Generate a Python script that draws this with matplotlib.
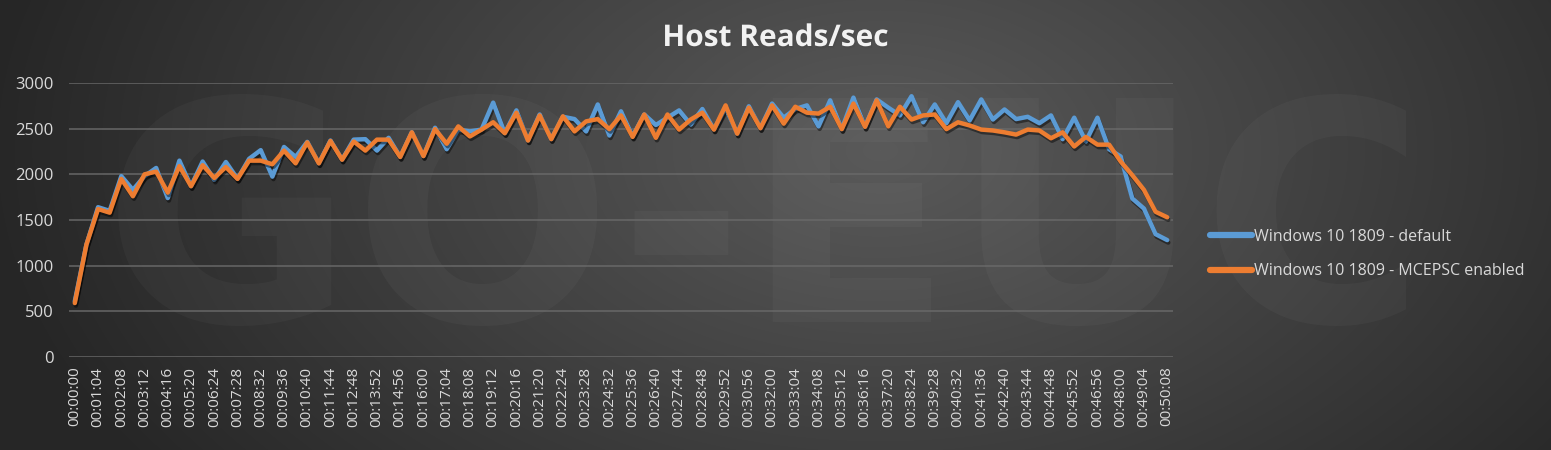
#!/usr/bin/env python3

import numpy as np

import matplotlib
matplotlib.use('Agg')
import matplotlib.pyplot as plt
from matplotlib import patheffects

plt.rcParams['font.family'] = ['Open Sans', 'DejaVu Sans']

# one sample every 32 seconds
step_sec = 32

default_reads = [
    610, 1230, 1640, 1600, 1980, 1830, 1980, 2070, 1740, 2150,
    1870, 2140, 1940, 2135, 1950, 2170, 2265, 1975, 2300, 2190,
    2355, 2120, 2370, 2160, 2380, 2385, 2260, 2400, 2190, 2460,
    2200, 2510, 2275, 2490, 2470, 2490, 2785, 2450, 2700, 2370,
    2655, 2385, 2630, 2605, 2470, 2765, 2425, 2690, 2415, 2655,
    2540, 2620, 2700, 2545, 2715, 2490, 2730, 2445, 2745, 2505,
    2775, 2620, 2715, 2755, 2525, 2810, 2495, 2840, 2520, 2820,
    2730, 2645, 2855, 2570, 2765, 2560, 2790, 2590, 2820, 2600,
    2710, 2605, 2630, 2560, 2645, 2385, 2620, 2360, 2620, 2275,
    2195, 1735, 1625, 1345, 1280,
]

mcepsc_reads = [
    590, 1230, 1620, 1580, 1950, 1760, 2000, 2030, 1800, 2090,
    1870, 2100, 1960, 2080, 1950, 2150, 2150, 2110, 2260, 2120,
    2350, 2120, 2365, 2160, 2360, 2260, 2380, 2380, 2190, 2460,
    2200, 2495, 2335, 2525, 2415, 2490, 2570, 2450, 2675, 2370,
    2645, 2385, 2635, 2470, 2580, 2605, 2495, 2645, 2410, 2655,
    2400, 2655, 2490, 2600, 2675, 2490, 2755, 2445, 2730, 2505,
    2755, 2555, 2740, 2675, 2665, 2740, 2495, 2775, 2520, 2810,
    2525, 2740, 2600, 2645, 2655, 2495, 2570, 2535, 2490, 2480,
    2460, 2435, 2490, 2480, 2395, 2460, 2305, 2410, 2325, 2325,
    2140, 1990, 1830, 1590, 1530,
]

series_names = ['Windows 10 1809 - default', 'Windows 10 1809 - MCEPSC enabled']
series_colors = ['#5b9bd5', '#ed7d31']
yticks = [0, 500, 1000, 1500, 2000, 2500, 3000]


def hms(sec):
    return '{:02d}:{:02d}:{:02d}'.format(sec // 3600, (sec // 60) % 60, sec % 60)


def draw_background(fig):
    bg = fig.add_axes([0, 0, 1, 1], zorder=-10)
    h, w = 450, 1551
    yy, xx = np.mgrid[0:h, 0:w]
    r = np.sqrt(((xx - 880) / 900.0) ** 2 + ((yy - 150) / 560.0) ** 2)
    v = np.clip(0x5a - (0x5a - 0x26) * r, 0x26, 0x5a) / 255.0
    img = np.dstack([v, v, v])
    bg.imshow(img, extent=[0, w, h, 0], aspect='auto', interpolation='bilinear')
    bg.set_xlim(0, w)
    bg.set_ylim(h, 0)
    bg.axis('off')
    # faint watermark
    bg.text(765, 238, 'GO-EUC', color='white', alpha=0.03, fontsize=220,
            fontweight='bold', ha='center', va='center', family='DejaVu Sans')


def plot_reads():
    fig = plt.figure(figsize=(15.51, 4.5), dpi=100)
    draw_background(fig)

    ax = fig.add_axes([69 / 1551, 1 - 357 / 450, 1104 / 1551, 274 / 450])
    ax.set_facecolor('none')

    x = np.arange(len(default_reads))
    shadow = [patheffects.SimpleLineShadow(offset=(0.8, -1.8), shadow_color='black',
                                           alpha=0.45),
              patheffects.Normal()]
    for vals, name, color in zip([default_reads, mcepsc_reads], series_names,
                                 series_colors):
        ax.plot(x, vals, color=color, lw=3.2, label=name, solid_joinstyle='round',
                solid_capstyle='round', path_effects=shadow, zorder=3)

    ax.set_xlim(-0.5, len(default_reads) - 0.5)
    ax.set_ylim(0, 3000)
    ax.set_yticks(yticks)
    ax.set_yticklabels([str(t) for t in yticks])
    ax.grid(axis='y', color='#6a6a6a', lw=1.3, alpha=0.8)
    ax.set_axisbelow(True)

    label_idx = list(range(0, len(default_reads), 2))
    ax.set_xticks(label_idx)
    ax.set_xticklabels([hms(i * step_sec) for i in label_idx], rotation=90)

    ax.tick_params(axis='y', length=0, pad=11, labelsize=12, labelcolor='#d9d9d9')
    ax.tick_params(axis='x', length=0, pad=7, labelsize=11, labelcolor='#d9d9d9')
    for s in ax.spines.values():
        s.set_visible(False)

    fig.text(0.5, 1 - 38 / 450, 'Host Reads/sec', ha='center', va='center',
             fontsize=21.5, fontweight='bold', color='#f2f2f2',
             path_effects=[patheffects.withSimplePatchShadow(offset=(1, -1.5),
                                                             alpha=0.5)])

    leg = fig.legend(loc='center left', bbox_to_anchor=(1196 / 1551, 1 - 254 / 450),
                     frameon=False, fontsize=11.5, handlelength=2.6,
                     handletextpad=0.15, labelspacing=1.15)
    for t in leg.get_texts():
        t.set_color('#d9d9d9')
    for l in leg.get_lines():
        l.set_linewidth(4.5)
        l.set_path_effects([])

    fig.savefig('out.png', dpi=100)


if __name__ == '__main__':
    plot_reads()
